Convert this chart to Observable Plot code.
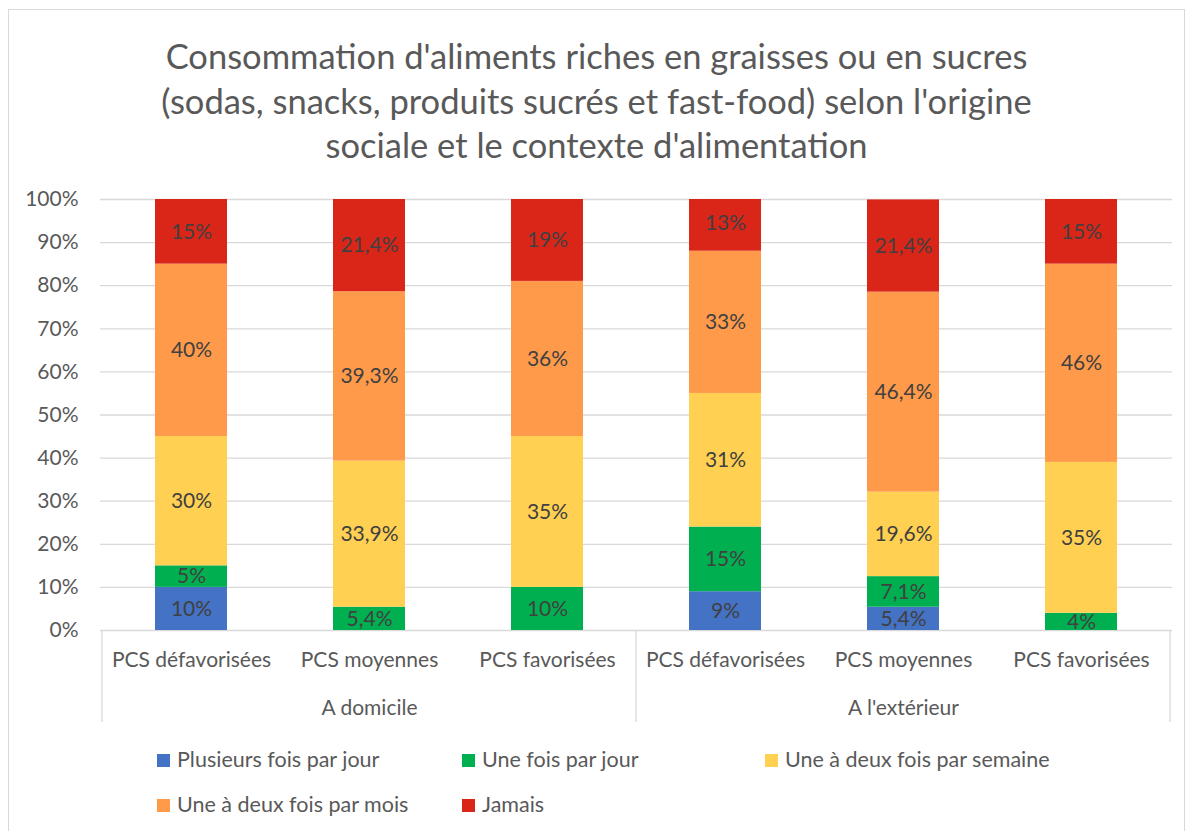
<!DOCTYPE html>
<html><head><meta charset="utf-8">
<script src="https://cdn.jsdelivr.net/npm/d3@7"></script>
<script src="https://cdn.jsdelivr.net/npm/@observablehq/plot@0.6"></script>
<style>
  html, body { margin: 0; padding: 0; background: #fff; }
  #wrap { position: relative; width: 1190px; height: 831px; overflow: hidden; font-family: Lato, "Open Sans", sans-serif; color: #595959; }
  #frame { position: absolute; left: 8px; top: 9px; width: 1177px; height: 840px; border: 1px solid #d9d9d9; box-sizing: border-box; }
  #title { position: absolute; left: 8px; top: 34px; width: 1177px; text-align: center; font-size: 34.5px; line-height: 44.5px; }
  #plot { position: absolute; left: 0; top: 180px; }
  .leg { position: absolute; font-size: 21.5px; line-height: 24px; white-space: nowrap; }
  .leg span.sw { display: inline-block; width: 13px; height: 13px; margin-right: 7px; vertical-align: 0px; }
</style></head>
<body>
<div id="wrap">
  <div id="frame"></div>
  <div id="title">Consommation d'aliments riches en graisses ou en sucres<br>(sodas, snacks, produits sucrés et fast-food) selon l'origine<br>sociale et le contexte d'alimentation</div>
  <div id="plot"></div>
  <div id="legend"></div>
</div>
<script>
const groups = ["A domicile", "A l'extérieur"];
const categories = ["PCS défavorisées", "PCS moyennes", "PCS favorisées"];
const series = ["Plusieurs fois par jour", "Une fois par jour", "Une à deux fois par semaine", "Une à deux fois par mois", "Jamais"];
const colors = ["#4472C4", "#00B050", "#FFD052", "#FF9A4B", "#DA2618"];
const plusieurs = [10, 0, 0, 9, 5.4, 0];
const uneFois = [5, 5.4, 10, 15, 7.1, 4];
const semaine = [30, 33.9, 35, 31, 19.6, 35];
const mois = [40, 39.3, 36, 33, 46.4, 46];
const jamais = [15, 21.4, 19, 13, 21.4, 15];
const yTicks = [0, 10, 20, 30, 40, 50, 60, 70, 80, 90, 100];

const seriesValues = [plusieurs, uneFois, semaine, mois, jamais];
const keys = [];
groups.forEach(g => categories.forEach(c => keys.push(g + "|" + c)));
const rows = [];
seriesValues.forEach((vals, s) => vals.forEach((v, i) => rows.push({key: keys[i], series: series[s], value: v})));
const fmt = v => (Number.isInteger(v) ? String(v) : v.toFixed(1).replace(".", ",")) + "%";

const FONT = "Lato, 'Open Sans', sans-serif";
const chart = Plot.plot({
  width: 1190, height: 560,
  marginTop: 19, marginBottom: 110, marginLeft: 100, marginRight: 18,
  style: {fontFamily: FONT, fontSize: "21px", color: "#595959", background: "transparent", overflow: "visible"},
  x: {domain: keys, paddingInner: 0.597, paddingOuter: 0.2985, axis: null},
  y: {domain: [0, 100], axis: null},
  color: {domain: series, range: colors},
  marks: [
    Plot.gridY(yTicks, {stroke: "#d9d9d9", strokeOpacity: 1, strokeWidth: 1.3}),
    Plot.barY(rows, {x: "key", y: "value", fill: "series", order: series, clip: true}),
    Plot.text(rows.filter(d => d.value > 0), Plot.stackY({x: "key", y: "value", z: "series", order: series, text: d => fmt(d.value), fill: "#404040", fontSize: 21})),
    Plot.axisY({ticks: yTicks, tickFormat: d => d + "%", tickSize: 0, tickPadding: 22, fontSize: 21, label: null}),
    Plot.axisX({tickFormat: k => k.split("|")[1], tickSize: 0, tickPadding: 22, fontSize: 21, label: null}),
    Plot.text(groups, {x: g => g + "|" + categories[1], y: () => 0, text: d => d, dy: 78, fontSize: 21, fill: "#595959"})
  ]
});
document.getElementById("plot").appendChild(chart);

// category separators drawn from the x scale
const xs = chart.scale("x");
const ys = chart.scale("y");
const gap = (xs.step - xs.bandwidth) / 2;
const y0 = ys.apply(0);
const seps = [xs.apply(keys[0]) - gap, xs.apply(keys[3]) - gap, xs.apply(keys[5]) + xs.bandwidth + gap];
d3.select(chart).append("g").selectAll("line").data(seps).join("line")
  .attr("x1", d => d).attr("x2", d => d).attr("y1", y0).attr("y2", y0 + 92)
  .attr("stroke", "#d9d9d9").attr("stroke-width", 1.3);

// legend
const legPos = [[157, 759], [462, 759], [765, 759], [157, 804], [462, 804]];
const leg = d3.select("#legend");
series.forEach((s, i) => {
  const d = leg.append("div").attr("class", "leg").style("left", legPos[i][0] + "px").style("top", (legPos[i][1] - 12) + "px");
  d.append("span").attr("class", "sw").style("background", colors[i]);
  d.append("span").text(s);
});
</script>
</body></html>
